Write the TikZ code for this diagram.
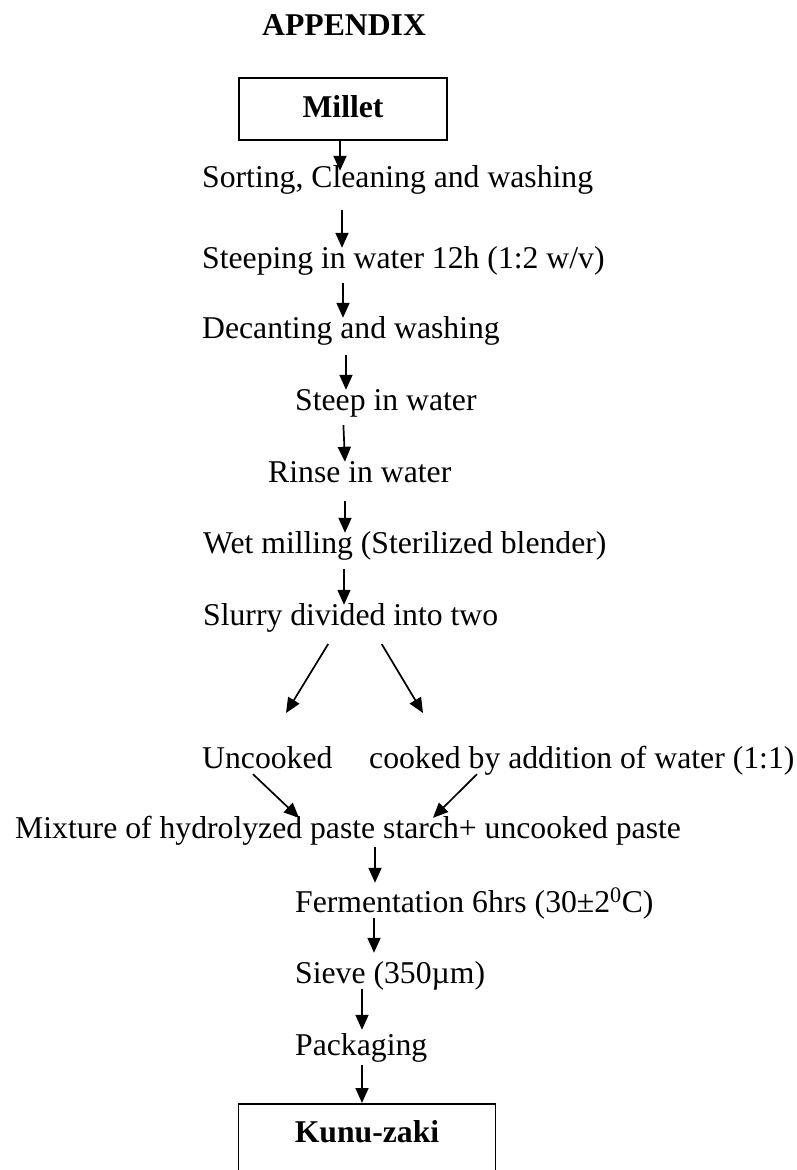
\documentclass[tikz,border=0pt]{standalone}
\usepackage{fontspec}
\setmainfont{Liberation Serif}
\usetikzlibrary{arrows.meta}
\tikzset{
  basic/.style  = {inner sep=0pt, font=\fontsize{31.7}{38}\selectfont},
  txt/.style    = {basic, anchor=base west, text height=20pt, text depth=6pt},
  endbox/.style = {basic, draw, line width=1.6pt, anchor=north, font=\bfseries\fontsize{31.7}{38}\selectfont},
  flow/.style   = {-{Triangle[length=15pt,width=13pt]}, line width=1.7pt}
}

\begin{document}
\begin{tikzpicture}[x=1pt,y=-1pt]
\useasboundingbox (0,0) rectangle (797,1170);

% heading and the raw grain
\node[basic, anchor=base west, font=\bfseries\fontsize{31.7}{38}\selectfont] (title) at (262,35) {APPENDIX};
\node[endbox, minimum width=208pt, text height=40pt, text depth=22pt] (millet) at (343,77) {Millet};

% steps, one per line
\node[txt] (sort)    at (202,187)  {Sorting, Cleaning and washing};
\node[txt] (soak)    at (202,268)  {Steeping in water 12h (1:2 w/v)};
\node[txt] (decant)  at (202,338)  {Decanting and washing};
\node[txt] (steep)   at (295,410)  {Steep in water};
\node[txt] (rinse)   at (268,482)  {Rinse in water};
\node[txt] (mill)    at (203,553)  {Wet milling (Sterilized blender)};
\node[txt] (slurry)  at (203,625)  {Slurry divided into two};
\node[txt] (raw)     at (202,768)  {Uncooked};
\node[txt] (cooked)  at (369,768)  {cooked by addition of water (1:1)};
\node[txt] (mix)     at (15,838)   {Mixture of hydrolyzed paste starch+ uncooked paste};
\node[txt] (ferment) at (295,912)  {Fermentation 6hrs (30±2\textsuperscript{0}C)};
\node[txt] (sieve)   at (295,983)  {Sieve (350µm)};
\node[txt] (pack)    at (295,1055) {Packaging};

% the product
\node[endbox, minimum width=257pt, text height=39pt, text depth=60pt] (kunu) at (367,1103) {Kunu-zaki};

% tips of the two branches
\coordinate (rawtip)    at (286,713);
\coordinate (cookedtip) at (423,713);

% arrows down the chain
\draw[flow, shorten >=-4pt] (millet.south -| 340,0) -- (sort.north -| 340,0);
\draw[flow, shorten <=17pt] (sort.south -| 342,0) -- (soak.north -| 342,0);
\draw[flow, shorten <=9pt]  (soak.south -| 343,0) -- (decant.north -| 343,0);
\draw[flow, shorten <=11pt] (decant.south -| 346,0) -- (steep.north -| 346,0);
\draw[flow, shorten <=9pt]  (steep.south -| 343,0) -- (rinse.north -| 345,0);
\draw[flow, shorten <=13pt] (rinse.south -| 345,0) -- (mill.north -| 345,0);
\draw[flow, shorten <=10pt] (mill.south -| 344,0) -- (slurry.north -| 344,0);

% split and join
\draw[flow, shorten <=15pt] (slurry.south -| 336,0) -- (rawtip);
\draw[flow, shorten <=15pt] (slurry.south -| 374,0) -- (cookedtip);
\draw[flow] (raw.south -| 253,0) -- (mix.north -| 299,0);
\draw[flow] (cooked.south -| 477,0) -- (mix.north -| 433,0);

\draw[flow, shorten <=3pt, shorten >=9pt] (mix.south -| 375,0) -- (ferment.north -| 375,0);
\draw[flow, shorten >=10pt] (ferment.south -| 374,0) -- (sieve.north -| 374,0);
\draw[flow, shorten >=5pt] (sieve.south -| 362,0) -- (pack.north -| 362,0);
\draw[flow, shorten <=4pt] (pack.south -| 362,0) -- (kunu.north -| 362,0);

\end{tikzpicture}
\end{document}
